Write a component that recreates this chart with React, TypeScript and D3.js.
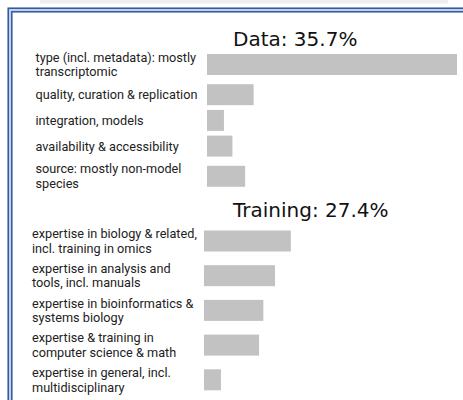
import React, { useEffect, useRef } from "react";
import * as d3 from "d3";

// Data section
const dataTitle = "Data: 35.7%";
const dataLabels = [
  "type (incl. metadata): mostly\ntranscriptomic",
  "quality, curation & replication",
  "integration, models",
  "availability & accessibility",
  "source: mostly non-model\nspecies",
];
const dataValues = [23.6, 4.4, 1.6, 2.4, 3.6];

// Training section
const trainingTitle = "Training: 27.4%";
const trainingLabels = [
  "expertise in biology & related,\nincl. training in omics",
  "expertise in analysis and\ntools, incl. manuals",
  "expertise in bioinformatics &\nsystems biology",
  "expertise & training in\ncomputer science & math",
  "expertise in general, incl.\nmultidisciplinary",
];
const trainingValues = [8.2, 6.7, 5.6, 5.2, 1.6];

const W = 463;
const H = 400;

const App: React.FC = () => {
  const svgRef = useRef<SVGSVGElement | null>(null);

  useEffect(() => {
    if (!svgRef.current) return;
    const svg = d3.select(svgRef.current);
    svg.selectAll("*").remove();

    // top grey strip
    svg.append("rect")
      .attr("x", 40).attr("y", 0).attr("width", 408).attr("height", 3.5)
      .attr("fill", "#eeeeee");

    // double blue frame (runs off the right/bottom edges)
    svg.append("rect")
      .attr("x", 9.5).attr("y", 9.5).attr("width", W + 20).attr("height", H + 20)
      .attr("fill", "none").attr("stroke", "#c3d0ea").attr("stroke-width", 3);
    svg.append("rect")
      .attr("x", 8.2).attr("y", 8.2).attr("width", W + 20).attr("height", H + 20)
      .attr("fill", "none").attr("stroke", "#2f559c").attr("stroke-width", 1.5);
    svg.append("rect")
      .attr("x", 11.8).attr("y", 11.8).attr("width", W + 20).attr("height", H + 20)
      .attr("fill", "none").attr("stroke", "#2f559c").attr("stroke-width", 1.5);

    // same px-per-percent for both sections
    const x = d3.scaleLinear().domain([0, 23.6]).range([0, 250]);

    const lineH = 15;
    const barH = 21;
    const gap = 4.7;

    const drawSection = (
      title: string,
      labels: string[],
      values: number[],
      titleBaseline: number,
      firstCenter: number,
      labelX: number,
      barX: number
    ) => {
      const g = svg.append("g");
      g.append("text")
        .attr("x", 233)
        .attr("y", titleBaseline)
        .attr("font-family", "DejaVu Sans")
        .attr("font-size", 20)
        .attr("fill", "#111")
        .text(title);

      const rows = labels.map((l, i) => {
        const lines = l.split("\n");
        return { lines, value: values[i], h: Math.max(lines.length * lineH, barH) };
      });
      let y = firstCenter - rows[0].h / 2;
      rows.forEach(r => {
        const cy = y + r.h / 2;
        g.append("rect")
          .attr("x", barX)
          .attr("y", cy - barH / 2)
          .attr("width", x(r.value))
          .attr("height", barH)
          .attr("fill", "#c2c2c2");
        const t = g.append("text")
          .attr("font-family", "Roboto")
          .attr("font-size", 12.7)
          .attr("fill", "#222");
        r.lines.forEach((ln, j) => {
          t.append("tspan")
            .attr("x", labelX)
            .attr("y", cy + (j - (r.lines.length - 1) / 2) * 14.6)
            .attr("dy", "0.35em")
            .text(ln);
        });
        y += r.h + gap;
      });
    };

    drawSection(dataTitle, dataLabels, dataValues, 45.5, 64.5, 35.5, 207);
    drawSection(trainingTitle, trainingLabels, trainingValues, 216.5, 241, 32, 204);
  }, []);

  return (
    <svg
      ref={svgRef}
      width={W}
      height={H}
      style={{ position: "absolute", left: 0, top: 0, background: "#fff" }}
    />
  );
};

export default App;
